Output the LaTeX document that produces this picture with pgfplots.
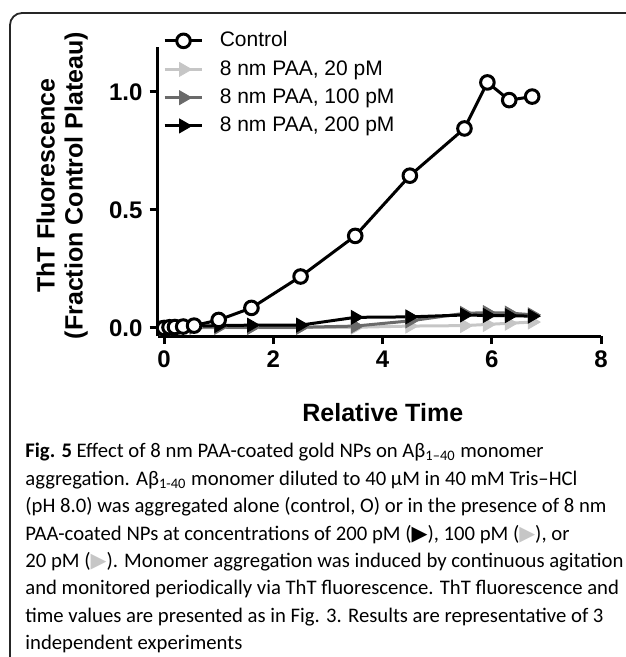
\documentclass[border=0pt]{standalone}
\usepackage{pgfplots}
\pgfplotsset{compat=1.18}
\usepackage{fontspec}
\setmainfont{Liberation Sans}
\newfontfamily\capfont{Carlito}
\newfontfamily\symfont{DejaVu Sans}
\definecolor{ltgray}{HTML}{C6C6C6}
\definecolor{dkgray}{HTML}{6A6A6A}

% shared marker styles
\pgfplotsset{
  ctrl/.style={black, line width=1.5pt, mark=*, mark size=3.4pt,
    mark options={fill=white, draw=black, line width=1.5pt}},
  tri/.style={#1, line width=1.5pt, mark=triangle*, mark size=4pt,
    mark options={rotate=-90, fill=#1, draw=#1, line width=0.4pt}},
}

\begin{document}
\begin{tikzpicture}
\path[use as bounding box] (0,0) rectangle (312.5pt,-328.5pt);
\draw[line width=0.9pt, black!85, rounded corners=6pt]
  (5pt,-340pt) -- (5pt,-6.5pt) -- (330pt,-6.5pt);

\begin{axis}[
  at={(78.75pt,-168pt)}, anchor=south west,
  scale only axis, width=221.75pt, height=144.5pt,
  axis lines=left, axis line style={-, line width=1.5pt},
  xmin=-0.12, xmax=8, ymin=-0.034, ymax=1.19,
  xtick={0,2,4,6,8}, ytick={0,0.5,1},
  tick align=outside, major tick length=4pt,
  every tick/.style={black, line width=1.5pt},
  /pgf/number format/assume math mode=true,
  yticklabel style={/pgf/number format/.cd, fixed, fixed zerofill, precision=1},
  ticklabel style={font=\bfseries\fontsize{12}{14}\selectfont},
  xlabel={Relative Time},
  ylabel={ThT Fluorescence\\(Fraction Control Plateau)},
  xlabel style={font=\bfseries\fontsize{12.5}{14}\selectfont,
    at={(axis description cs:0.508,-0.265)}, anchor=center},
  ylabel style={font=\bfseries\fontsize{12.5}{14}\selectfont, align=center,
    at={(axis description cs:-0.215,0.52)}, anchor=center},
  clip=false,
  legend cell align=left,
  legend style={draw=none, fill=none, at={(axis description cs:0.012,1.068)},
    anchor=north west, font=\fontsize{10.5}{12.6}\selectfont,
    row sep=1.3pt, inner sep=0pt},
  legend image code/.code={
    \draw[mark repeat=2, mark phase=2] plot coordinates {(0cm,0cm) (0.33cm,0cm) (0.66cm,0cm)};},
]
\addlegendimage{ctrl}
\addlegendentry{\hspace{6pt}Control}

\addplot[tri=ltgray] coordinates {
  (0,0) (0.1,0) (0.2,0.001) (0.35,0.002) (0.55,0.002) (1.0,0.002) (1.6,0.002)
  (2.5,0.002) (3.5,0.003) (4.5,0.008) (5.5,0.01) (5.92,0.015) (6.32,0.02) (6.74,0.025)};
\addlegendentry{\hspace{6pt}8 nm PAA, 20 pM}

\addplot[tri=dkgray] coordinates {
  (0,0) (0.1,0) (0.2,0.002) (0.35,0.003) (0.55,0.004) (1.0,0.003) (1.6,0.002)
  (2.5,0.003) (3.5,0.008) (4.5,0.03) (5.5,0.062) (5.92,0.065) (6.32,0.063) (6.74,0.056)};
\addlegendentry{\hspace{6pt}8 nm PAA, 100 pM}

\addplot[tri=black] coordinates {
  (0,0) (0.1,0.001) (0.2,0.003) (0.35,0.005) (0.55,0.008) (1.0,0.01) (1.6,0.012)
  (2.5,0.012) (3.5,0.045) (4.5,0.047) (5.5,0.055) (5.92,0.053) (6.32,0.052) (6.74,0.05)};
\addlegendentry{\hspace{6pt}8 nm PAA, 200 pM}

\addplot[ctrl, forget plot] coordinates {
  (0,0) (0.1,0.003) (0.2,0.004) (0.35,0.006) (0.55,0.01) (1.0,0.034) (1.6,0.085)
  (2.5,0.218) (3.5,0.39) (4.5,0.645) (5.5,0.845) (5.92,1.04) (6.32,0.965) (6.74,0.98)};
\end{axis}

\node[anchor=north west, inner sep=0pt, align=left,
  font=\capfont\fontsize{10.35}{13.7}\selectfont] at (12.5pt,-221.5pt) {%
\textbf{Fig. 5} Effect of 8 nm PAA-coated gold NPs on Aβ\textsubscript{1–40} monomer\\
aggregation. Aβ\textsubscript{1-40} monomer diluted to 40 µM in 40 mM Tris–HCl\\
(pH 8.0) was aggregated alone (control, O) or in the presence of 8 nm\\
PAA-coated NPs at concentrations of 200 pM ({\symfont ▶}), 100 pM (\textcolor{ltgray}{\symfont ▶}), or\\
20 pM (\textcolor{ltgray}{\symfont ▶}). Monomer aggregation was induced by continuous agitation\\
and monitored periodically via ThT fluorescence. ThT fluorescence and\\
time values are presented as in Fig. 3. Results are representative of 3\\
independent experiments};
\end{tikzpicture}
\end{document}
